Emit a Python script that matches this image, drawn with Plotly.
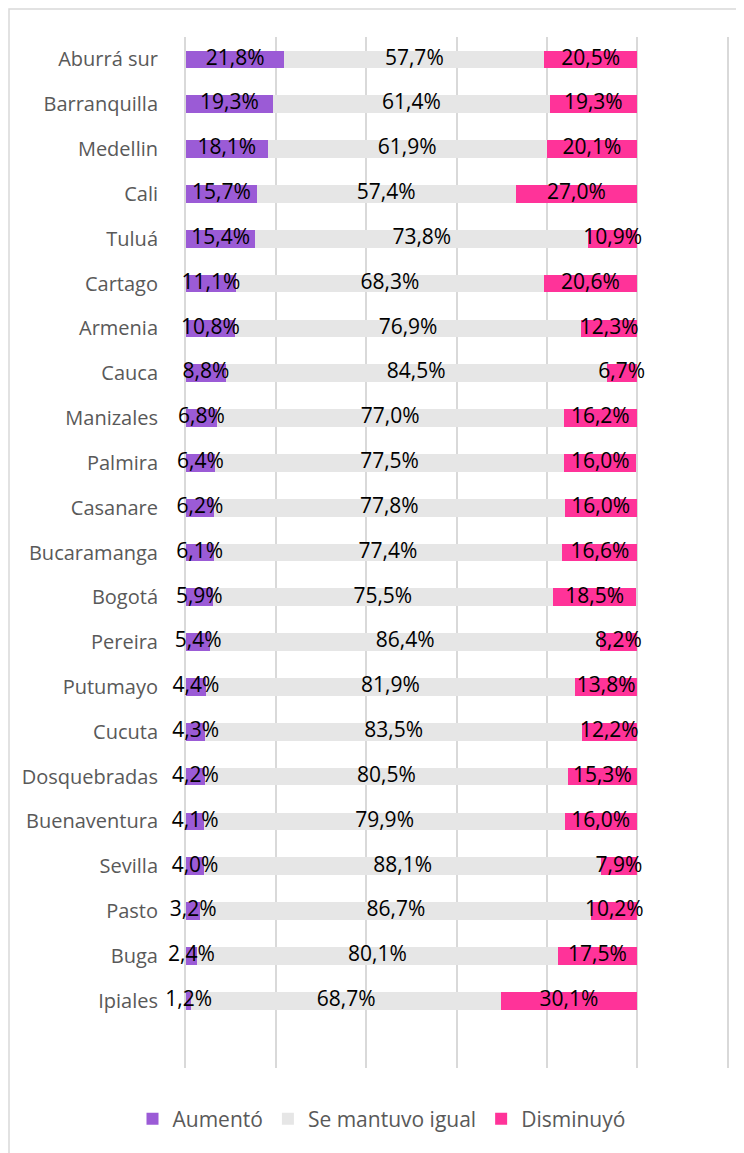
import plotly.graph_objects as go

ciudades = ["Aburrá sur", "Barranquilla", "Medellin", "Cali", "Tuluá", "Cartago", "Armenia",
            "Cauca", "Manizales", "Palmira", "Casanare", "Bucaramanga", "Bogotá", "Pereira",
            "Putumayo", "Cucuta", "Dosquebradas", "Buenaventura", "Sevilla", "Pasto", "Buga", "Ipiales"]
aumento = [21.8, 19.3, 18.1, 15.7, 15.4, 11.1, 10.8, 8.8, 6.8, 6.4, 6.2, 6.1, 5.9, 5.4,
           4.4, 4.3, 4.2, 4.1, 4.0, 3.2, 2.4, 1.2]
igual = [57.7, 61.4, 61.9, 57.4, 73.8, 68.3, 76.9, 84.5, 77.0, 77.5, 77.8, 77.4, 75.5, 86.4,
         81.9, 83.5, 80.5, 79.9, 88.1, 86.7, 80.1, 68.7]
disminuyo = [20.5, 19.3, 20.1, 27.0, 10.9, 20.6, 12.3, 6.7, 16.2, 16.0, 16.0, 16.6, 18.5, 8.2,
             13.8, 12.2, 15.3, 16.0, 7.9, 10.2, 17.5, 30.1]
series = [("Aumentó", aumento, "#9B5BD6"),
          ("Se mantuvo igual", igual, "#E6E6E6"),
          ("Disminuyó", disminuyo, "#FF3399")]

def fmt(v):
    return f"{v:.1f}%".replace(".", ",")

# page has an 8px body margin; figure is sized to fill the rest of the 744x1153 window
W, H = 736, 1145
L, R, T, B = 178, 17, 29, 85
pw = W - L - R
ph = H - T - B

fig = go.Figure()
for name, vals, color in series:
    fig.add_trace(go.Bar(
        y=ciudades, x=vals, name=name, orientation="h",
        marker=dict(color=color, line=dict(width=0)),
        hoverinfo="skip",
    ))

# data labels on top of all bars, centred in each segment
base = [0.0] * len(ciudades)
for name, vals, color in series:
    centers = [b + v / 2 for b, v in zip(base, vals)]
    fig.add_trace(go.Scatter(
        y=ciudades, x=centers, mode="text", text=[fmt(v) for v in vals],
        textposition="middle center", cliponaxis=False, showlegend=False,
        textfont=dict(family="Open Sans", size=21, color="black"),
        hoverinfo="skip",
    ))
    base = [b + v for b, v in zip(base, vals)]

fig.add_shape(type="rect", xref="paper", yref="paper",
              x0=(1 - L) / pw, x1=(W + 20 - L) / pw,
              y0=-(B + 20) / ph, y1=(H - B - 1) / ph,
              line=dict(color="#D9D9D9", width=1.5), fillcolor="rgba(0,0,0,0)", layer="below")

fig.update_layout(
    width=W, height=H, barmode="stack", bargap=0.605,
    margin=dict(l=L, r=R, t=T, b=B, autoexpand=False),
    paper_bgcolor="white", plot_bgcolor="white",
    xaxis=dict(range=[0, 120], dtick=20, showgrid=True, gridcolor="#D9D9D9", gridwidth=2,
               showticklabels=False, zeroline=False, showline=False, fixedrange=True,
               layer="below traces"),
    yaxis=dict(type="category", categoryorder="array", categoryarray=ciudades,
               range=[22.5, -0.5], showgrid=False, zeroline=False,
               showline=True, mirror=True, linecolor="#D9D9D9", linewidth=2,
               layer="below traces",
               ticks="", ticklabelstandoff=22, automargin=False,
               tickfont=dict(family="Open Sans", size=20, color="#595959")),
    legend=dict(orientation="h", xref="container", yref="container",
                x=373.5 / W, y=(H - 1111) / H, xanchor="center", yanchor="middle",
                font=dict(family="Open Sans", size=21, color="#595959"),
                traceorder="normal", itemwidth=30),
    showlegend=True,
)
fig.write_html("out.html")
